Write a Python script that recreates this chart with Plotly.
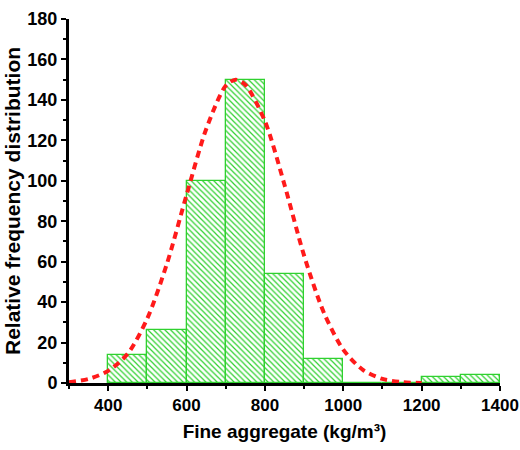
import plotly.graph_objects as go

# Histogram bins (kg/m3) and counts
bin_centers = [450, 550, 650, 750, 850, 950, 1050, 1150, 1250, 1350]
counts = [14, 26, 100, 150, 54, 12, 0, 0, 3, 4]
bin_width = 100

# Fitted distribution curve
curve_x = [300, 350, 400, 450, 500, 550, 600, 650, 700, 725, 750, 800, 850,
           900, 950, 1000, 1050, 1100, 1150, 1200]
curve_y = [0.4, 2, 6, 14.5, 32, 59, 93, 125.5, 147, 150, 147.5, 129.5, 98,
           63, 35, 16.5, 6.5, 2, 0.4, 0]

x_ticks = [400, 600, 800, 1000, 1200, 1400]
y_ticks = [0, 20, 40, 60, 80, 100, 120, 140, 160, 180]

GREEN = "#2fd12f"
RED = "#ff1a1a"
FONT = "Liberation Sans, Arial, sans-serif"

fig = go.Figure()
fig.add_trace(go.Bar(
    x=bin_centers, y=counts, width=[bin_width] * len(bin_centers),
    marker=dict(
        color="white",
        line=dict(color=GREEN, width=1.3),
        pattern=dict(shape="\\", fgcolor=GREEN, bgcolor="white",
                     size=4, solidity=0.3, fillmode="replace"),
    ),
    showlegend=False,
))
fig.add_trace(go.Scatter(
    x=curve_x, y=curve_y, mode="lines",
    line=dict(color=RED, width=4, dash="7px,5px", shape="spline", smoothing=0.8),
    showlegend=False, cliponaxis=True,
))

fig.update_layout(
    width=520, height=450,
    margin=dict(l=69, r=20, t=19, b=67),
    paper_bgcolor="white", plot_bgcolor="white",
    bargap=0,
    font=dict(family=FONT, color="black"),
)
fig.update_xaxes(
    range=[300, 1400], tickvals=x_ticks, ticktext=[str(v) for v in x_ticks],
    ticklabeloverflow="allow", automargin=False,
    showgrid=False, zeroline=False,
    showline=True, linecolor="black", linewidth=3,
    ticks="outside", ticklen=5, tickwidth=2, tickcolor="black",
    minor=dict(dtick=100, tick0=300, ticks="outside", ticklen=3, tickwidth=2, tickcolor="black"),
    tickfont=dict(size=17, family=FONT, weight="bold"),
    title=dict(text="Fine aggregate (kg/m³)", standoff=11,
               font=dict(size=19, family=FONT, weight="bold")),
)
fig.update_yaxes(
    range=[0, 180], tickvals=y_ticks, ticktext=[str(v) for v in y_ticks],
    ticklabeloverflow="allow", automargin=False,
    showgrid=False, zeroline=False,
    showline=True, linecolor="black", linewidth=3,
    ticks="outside", ticklen=5, tickwidth=2, tickcolor="black",
    minor=dict(dtick=10, tick0=0, ticks="outside", ticklen=3, tickwidth=2, tickcolor="black"),
    tickfont=dict(size=18, family=FONT, weight="bold"),
    title=dict(text="Relative frequency distribution", standoff=2,
               font=dict(size=21, family=FONT, weight="bold")),
)

fig.write_html("out.html")
